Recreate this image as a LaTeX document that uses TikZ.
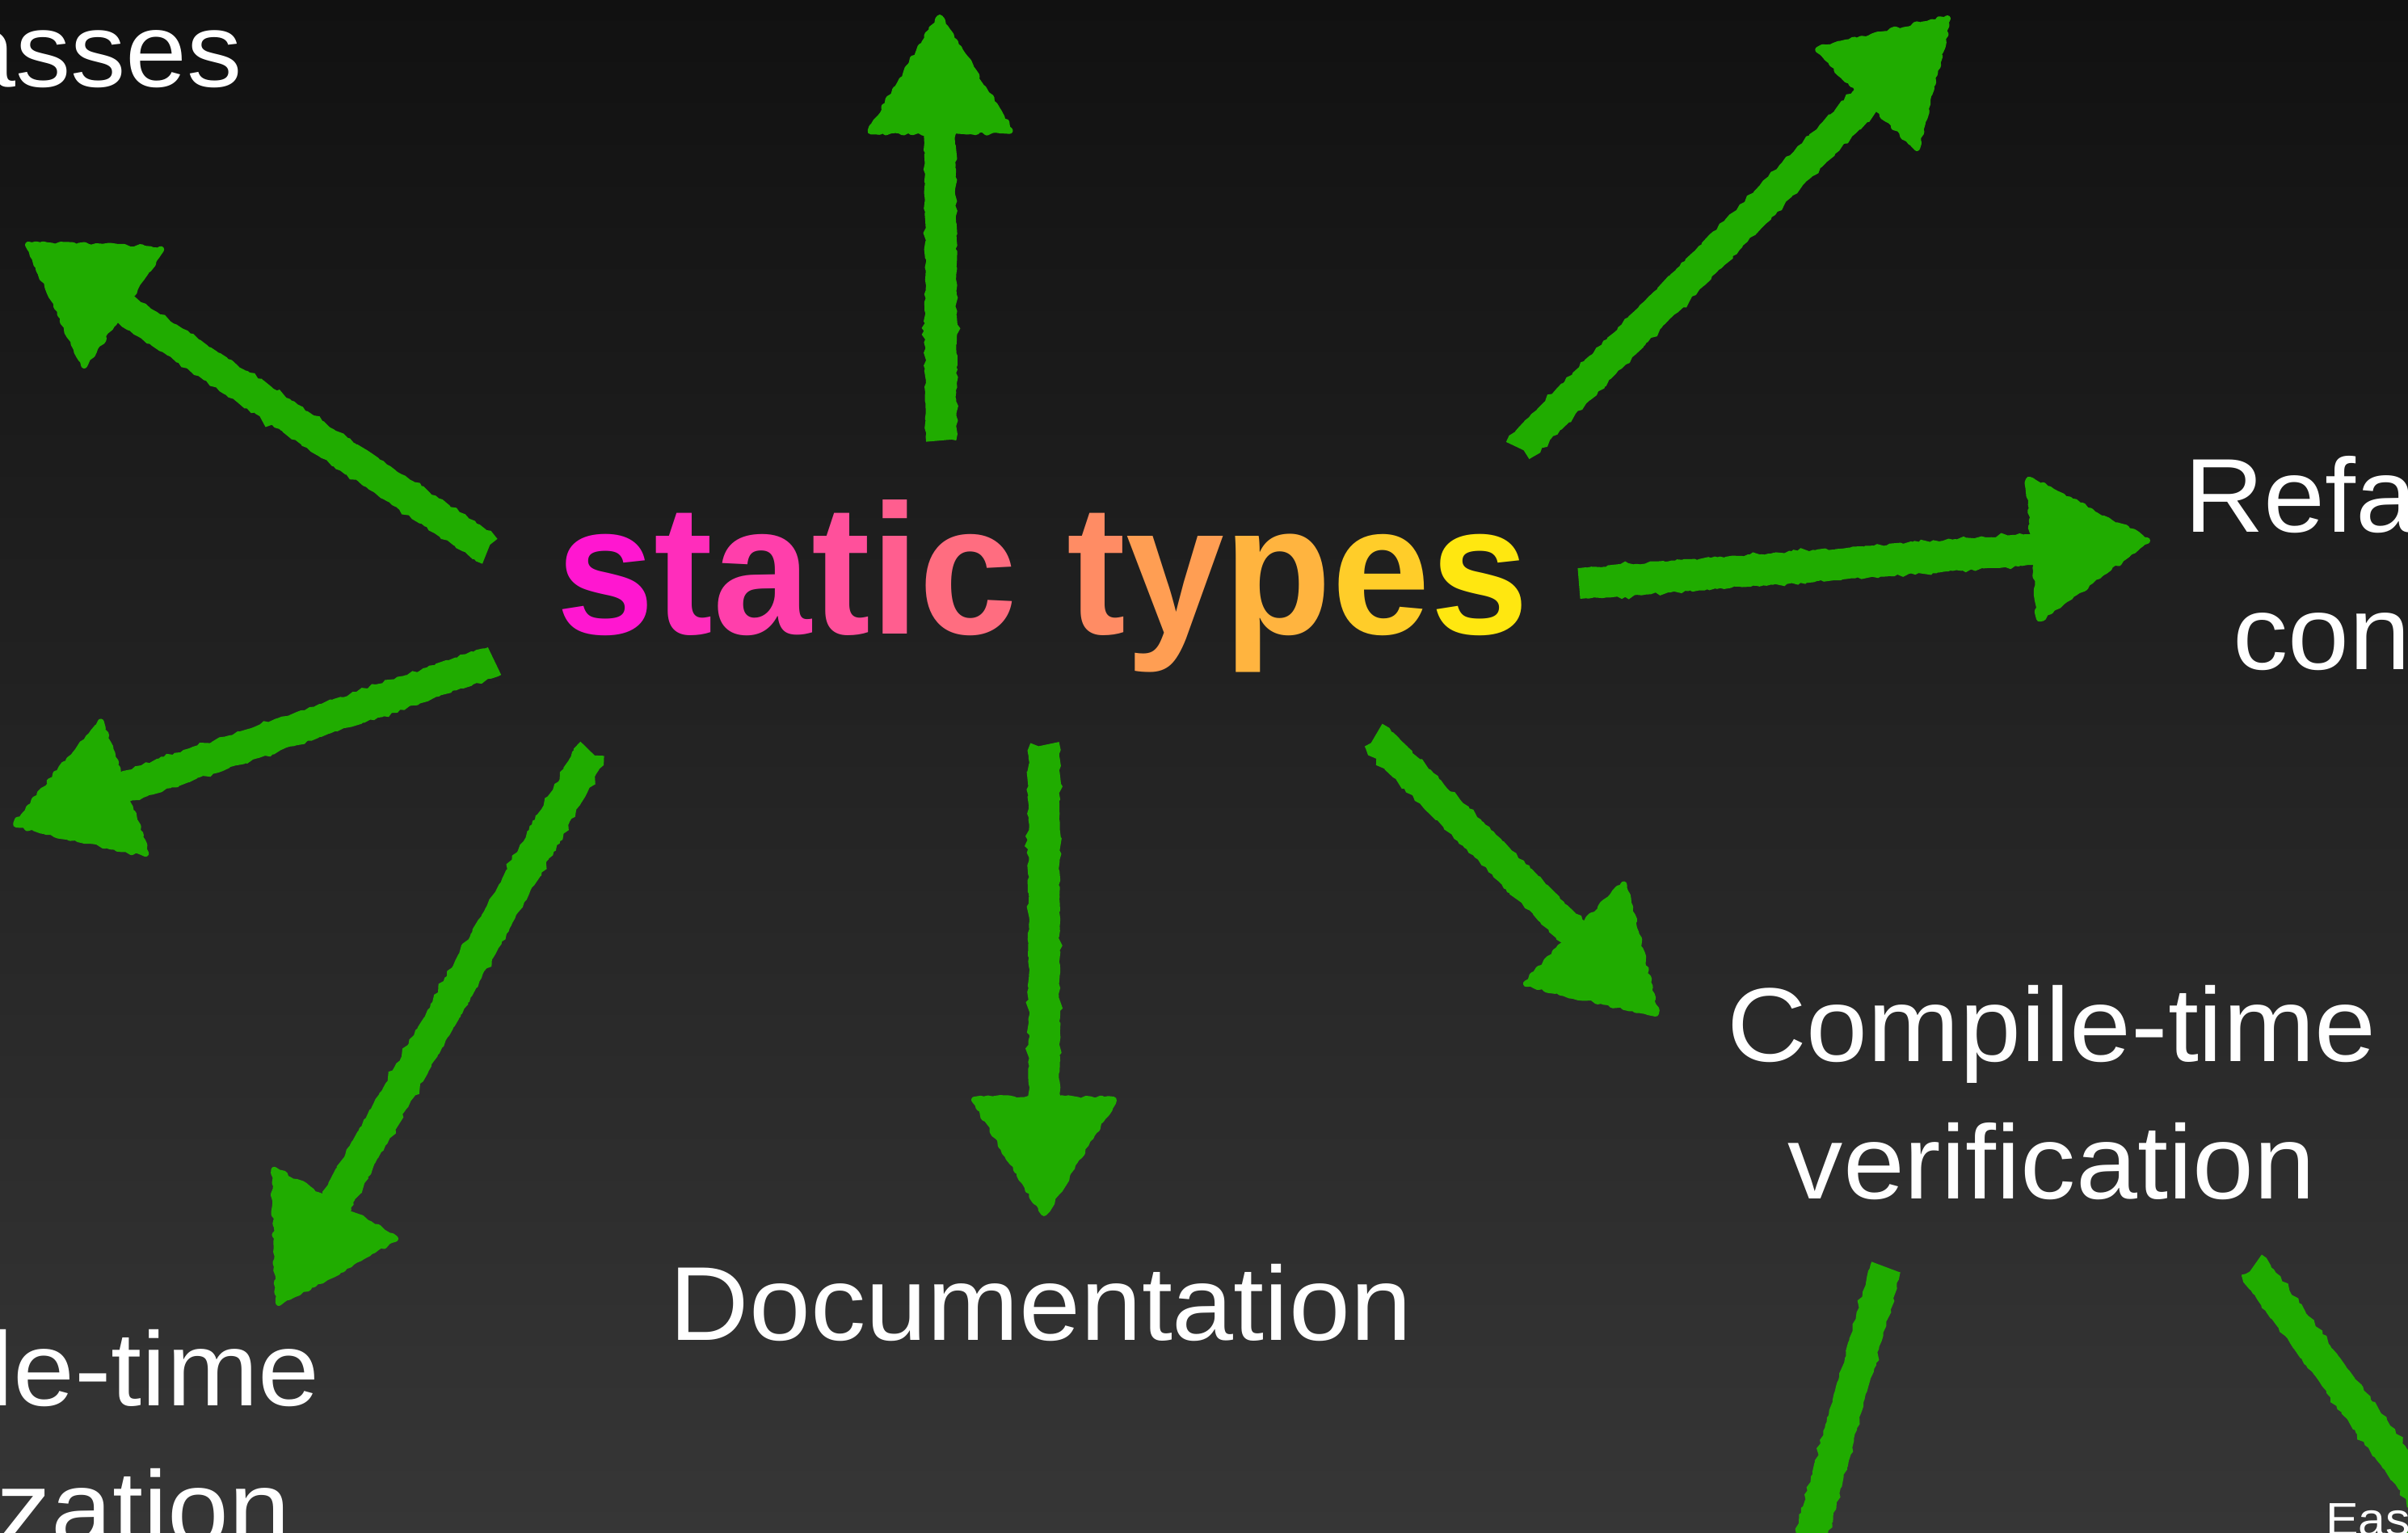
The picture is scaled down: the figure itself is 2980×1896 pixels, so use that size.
\documentclass[tikz,border=0pt]{standalone}
\usepackage{fontspec}
\setmainfont{Liberation Sans}[FakeStretch=1.05]
\newfontfamily\stfont{Liberation Sans Bold}[FakeStretch=0.955]
\usetikzlibrary{calc,decorations.pathmorphing}
\definecolor{bgtop}{RGB}{17,17,17}
\definecolor{bgbot}{RGB}{54,54,54}
\definecolor{chalk}{RGB}{32,172,0}
\definecolor{stleft}{RGB}{255,16,214}
\definecolor{stright}{RGB}{255,238,10}
\newcommand\stfontsize{\stfont\fontsize{229}{229}\selectfont}
\newcommand\gl[2]{\textcolor{stright!#1!stleft}{#2}}
\tikzset{
  lbl/.style={inner sep=0pt, text=white, font=\fontsize{130}{170}\selectfont},
  smalllbl/.style={inner sep=0pt, text=white, font=\fontsize{58}{70}\selectfont},
  chalkshaft/.style={draw=chalk, line width=38pt, decorate,
    decoration={random steps, segment length=4pt, amplitude=1.4pt}},
  chalkhead/.style={fill=chalk, draw=chalk, line width=8pt, line join=round, decorate,
    decoration={random steps, segment length=5pt, amplitude=2pt}},
}
\newcommand\chalkarrow[2]{%
  \coordinate (#2b) at ($(#2)!140pt!(#1)$);
  \coordinate (#2s) at ($(#2)!120pt!(#1)$);
  \coordinate (#2l) at ($(#2b)!86pt!90:(#2)$);
  \coordinate (#2r) at ($(#2b)!86pt!-90:(#2)$);
  \path[chalkshaft] (#1) -- (#2s);
  \path[chalkhead] (#2) -- (#2l) -- (#2r) -- cycle;
}
\begin{document}
\begin{tikzpicture}[x=1pt,y=-1pt]
\pgfmathsetseed{7}
\useasboundingbox (0,0) rectangle (2980,1896);
\shade[top color=bgtop, bottom color=bgbot] (0,0) rectangle (2980,1896);

% arrow end points
\coordinate (a1t) at (1165,545);  \coordinate (a1h) at (1163,22);
\coordinate (a2t) at (1881,555);  \coordinate (a2h) at (2410,23);
\coordinate (a3t) at (604,680);   \coordinate (a3h) at (35,303);
\coordinate (a4t) at (612,818);   \coordinate (a4h) at (20,1020);
\coordinate (a5t) at (732,931);   \coordinate (a5h) at (345,1612);
\coordinate (a6t) at (1292,922);  \coordinate (a6h) at (1292,1501);
\coordinate (a7t) at (1701,912);  \coordinate (a7h) at (2049,1254);
\coordinate (a8t) at (1954,722);  \coordinate (a8h) at (2657,669);
\coordinate (a9t) at (2334,1568); \coordinate (a9h) at (2186,2100);
\coordinate (a10t) at (2788,1568); \coordinate (a10h) at (3100,1986);

\chalkarrow{a1t}{a1h}
\chalkarrow{a2t}{a2h}
\chalkarrow{a3t}{a3h}
\chalkarrow{a4t}{a4h}
\chalkarrow{a5t}{a5h}
\chalkarrow{a6t}{a6h}
\chalkarrow{a7t}{a7h}
\chalkarrow{a8t}{a8h}
\chalkarrow{a9t}{a9h}
\chalkarrow{a10t}{a10h}

% central title with per-letter gradient
\node[inner sep=0pt, font=\stfontsize, anchor=base] (st) at (1290,784)
  {\gl{3}{s}\gl{13}{t}\gl{21}{a}\gl{29}{t}\gl{35}{i}\gl{42}{c} \gl{56}{t}\gl{64}{y}\gl{74}{p}\gl{85}{e}\gl{97}{s}};

% labels
\node[lbl, anchor=base east] (cls) at (300,107) {asses};
\node[lbl, anchor=base west] (ref1) at (2703,658) {Refac};
\node[lbl, anchor=base west] (ref2) at (2763,828) {con};
\node[lbl, anchor=base, align=center] (cv) at (2539,1483) {Compile-time\\verification};
\node[lbl, anchor=base] (doc) at (1288,1658) {Documentation};
\node[lbl, anchor=base east] (opt1) at (396,1739) {le-time};
\node[lbl, anchor=base east] (opt2) at (360,1911) {zation};
\node[smalllbl, anchor=base west] (eas) at (2878,1900) {Eas};
\end{tikzpicture}
\end{document}
